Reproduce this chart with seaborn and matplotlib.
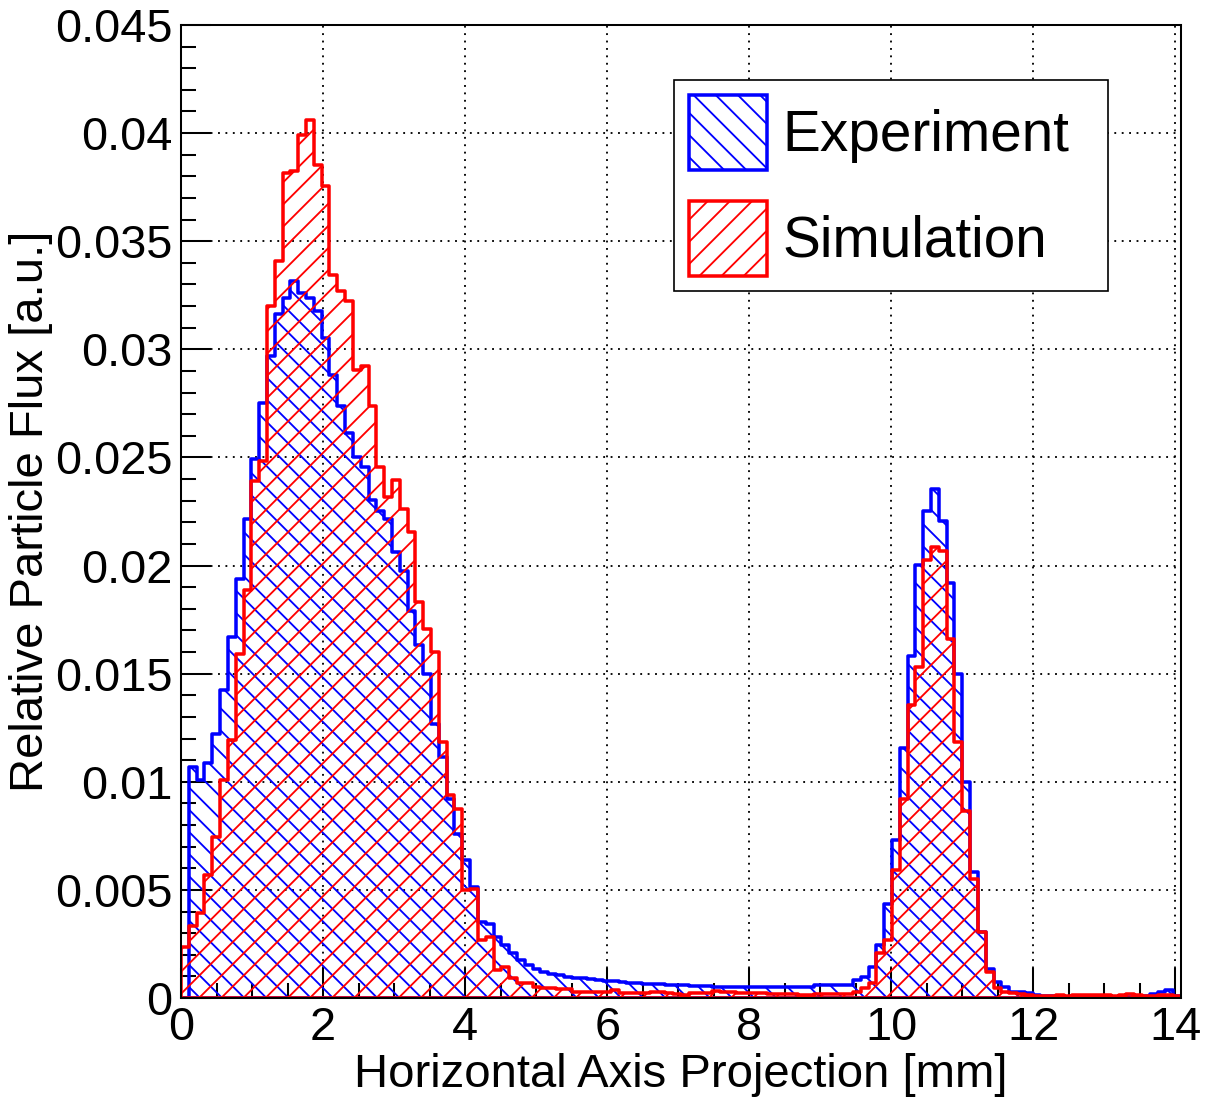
import numpy as np
import pandas as pd
import matplotlib
matplotlib.use("Agg")
import matplotlib.pyplot as plt
import seaborn as sns
from matplotlib.patches import Patch
from matplotlib.ticker import MultipleLocator

# ---------------- data ----------------
bin_start = 0.0
bin_width = 0.11
n_bins = 128

experiment = [
    0.00000, 0.01069, 0.01008, 0.01085, 0.01223, 0.01423, 0.01669, 0.01938,
    0.02215, 0.02492, 0.02754, 0.02969, 0.03162, 0.03238, 0.03315, 0.03262,
    0.03238, 0.03177, 0.03054, 0.02882, 0.02738, 0.02615, 0.02500, 0.02454,
    0.02303, 0.02254, 0.02215, 0.02062, 0.01974, 0.01792, 0.01634, 0.01497,
    0.01268, 0.01114, 0.00920, 0.00760, 0.00637, 0.00515, 0.00353, 0.00340,
    0.00284, 0.00245, 0.00207, 0.00176, 0.00153, 0.00133, 0.00122, 0.00111,
    0.00105, 0.00099, 0.00094, 0.00091, 0.00086, 0.00083, 0.00080, 0.00077,
    0.00075, 0.00070, 0.00068, 0.00066, 0.00065, 0.00063, 0.00062, 0.00060,
    0.00058, 0.00056, 0.00055, 0.00054, 0.00051, 0.00050, 0.00050, 0.00049,
    0.00050, 0.00049, 0.00050, 0.00051, 0.00050, 0.00052, 0.00051, 0.00053,
    0.00052, 0.00059, 0.00058, 0.00060, 0.00058, 0.00062, 0.00084, 0.00095,
    0.00145, 0.00245, 0.00437, 0.00732, 0.01158, 0.01582, 0.02003, 0.02254,
    0.02354, 0.02208, 0.01920, 0.01497, 0.00998, 0.00583, 0.00306, 0.00135,
    0.00076, 0.00049, 0.00030, 0.00028, 0.00022, 0.00012, 0.00008, 0.00007,
    0.00005, 0.00006, 0.00005, 0.00004, 0.00006, 0.00005, 0.00006, 0.00005,
    0.00005, 0.00006, 0.00008, 0.00010, 0.00018, 0.00030, 0.00037, 0.00008,
]

simulation = [
    0.00238, 0.00331, 0.00395, 0.00569, 0.00746, 0.01008, 0.01192, 0.01592,
    0.01888, 0.02392, 0.02485, 0.03200, 0.03408, 0.03815, 0.03823, 0.03992,
    0.04062, 0.03854, 0.03754, 0.03346, 0.03269, 0.03223, 0.02903, 0.02923,
    0.02738, 0.02454, 0.02315, 0.02395, 0.02262, 0.02157, 0.01831, 0.01708,
    0.01600, 0.01183, 0.00937, 0.00875, 0.00500, 0.00505, 0.00269, 0.00281,
    0.00130, 0.00142, 0.00091, 0.00068, 0.00068, 0.00049, 0.00047, 0.00045,
    0.00042, 0.00040, 0.00030, 0.00029, 0.00028, 0.00030, 0.00027, 0.00036,
    0.00024, 0.00022, 0.00023, 0.00021, 0.00029, 0.00027, 0.00022, 0.00020,
    0.00016, 0.00025, 0.00023, 0.00022, 0.00032, 0.00027, 0.00026, 0.00025,
    0.00024, 0.00021, 0.00022, 0.00020, 0.00019, 0.00019, 0.00017, 0.00016,
    0.00016, 0.00018, 0.00019, 0.00018, 0.00019, 0.00018, 0.00030, 0.00045,
    0.00071, 0.00206, 0.00268, 0.00591, 0.00922, 0.01354, 0.01531, 0.02026,
    0.02085, 0.02069, 0.01662, 0.01185, 0.00865, 0.00552, 0.00306, 0.00122,
    0.00045, 0.00030, 0.00022, 0.00018, 0.00013, 0.00010, 0.00008, 0.00010,
    0.00012, 0.00010, 0.00012, 0.00014, 0.00012, 0.00015, 0.00012, 0.00010,
    0.00016, 0.00018, 0.00014, 0.00009, 0.00010, 0.00015, 0.00012, 0.00010,
]

series_labels = ["Experiment", "Simulation"]
x_ticks = [0, 2, 4, 6, 8, 10, 12, 14]
x_tick_labels = ["0", "2", "4", "6", "8", "10", "12", "14"]
y_ticks = [0, 0.005, 0.01, 0.015, 0.02, 0.025, 0.03, 0.035, 0.04, 0.045]
y_tick_labels = ["0", "0.005", "0.01", "0.015", "0.02", "0.025", "0.03",
                 "0.035", "0.04", "0.045"]
x_label = "Horizontal Axis Projection [mm]"
y_label = "Relative Particle Flux [a.u.]"

# ---------------- style ----------------
sns.set_theme(style="ticks")
plt.rcParams["font.family"] = ["Liberation Sans", "DejaVu Sans"]
plt.rcParams["hatch.linewidth"] = 1.0
for key in ["text.color", "axes.labelcolor", "xtick.color", "ytick.color",
            "axes.edgecolor"]:
    plt.rcParams[key] = "black"

BLUE = "#0000ff"
RED = "#ff0000"
HATCH_EXP = "\\\\"
HATCH_SIM = "//"

edges = [bin_start + bin_width * i for i in range(n_bins + 1)]
centers = [0.5 * (edges[i] + edges[i + 1]) for i in range(n_bins)]
df = pd.DataFrame({"x": centers, "experiment": experiment, "simulation": simulation})

W, H = 1208, 1106
DPI = 400 / 3
fig = plt.figure(figsize=(W / DPI, H / DPI), dpi=DPI)
ax = fig.add_axes([181 / W, 1 - 998 / H, 1000 / W, 973 / H])

sns.histplot(data=df, x="x", weights="experiment", bins=edges, element="step",
             fill=True, color=BLUE, facecolor="none", edgecolor=BLUE,
             hatch=HATCH_EXP, linewidth=1.9, ax=ax)
sns.histplot(data=df, x="x", weights="simulation", bins=edges, element="step",
             fill=True, color=RED, facecolor="none", edgecolor=RED,
             hatch=HATCH_SIM, linewidth=1.9, ax=ax)

ax.set_xlim(0, edges[-1])
ax.set_ylim(0, 0.045)
ax.set_xticks(x_ticks)
ax.set_xticklabels(x_tick_labels)
ax.set_yticks(y_ticks)
ax.set_yticklabels(y_tick_labels)
ax.xaxis.set_minor_locator(MultipleLocator(0.5))
ax.yaxis.set_minor_locator(MultipleLocator(0.001))
ax.tick_params(axis="both", which="major", direction="in", length=16, width=1.1,
               labelsize=25.3, color="black", labelcolor="black")
ax.tick_params(axis="both", which="minor", direction="in", length=8, width=1.1,
               color="black")
ax.tick_params(axis="y", which="major", pad=4.5)
ax.tick_params(axis="x", which="major", pad=4.5)
ax.tick_params(top=False, right=False, which="both")

ax.grid(True, which="major", color="black", linestyle=(0, (1, 3)), linewidth=1.0)
ax.set_axisbelow(True)
for s in ax.spines.values():
    s.set_visible(True)
    s.set_color("black")
    s.set_linewidth(1.1)

ax.set_xlabel(x_label, fontsize=25.5, color="black")
ax.set_ylabel(y_label, fontsize=25.5, color="black")
ax.xaxis.set_label_coords(0.5, -0.057)
ax.yaxis.set_label_coords(-0.128, 0.5)

handles = [
    Patch(facecolor="none", edgecolor=BLUE, hatch=HATCH_EXP, linewidth=1.9,
          label=series_labels[0]),
    Patch(facecolor="none", edgecolor=RED, hatch=HATCH_SIM, linewidth=1.9,
          label=series_labels[1]),
]
leg = ax.legend(handles=handles, loc="upper left",
                bbox_to_anchor=(674 / W, 1 - 291 / H, 434 / W, 211 / H),
                bbox_transform=fig.transFigure, mode="expand", borderaxespad=0,
                fontsize=30.7, handlelength=1.37, handleheight=1.64,
                handletextpad=0.27, labelspacing=0.55, borderpad=0.27,
                fancybox=False, framealpha=1, edgecolor="black", labelcolor="black")
leg.get_frame().set_linewidth(0.9)

fig.savefig("out.png", dpi=DPI)
